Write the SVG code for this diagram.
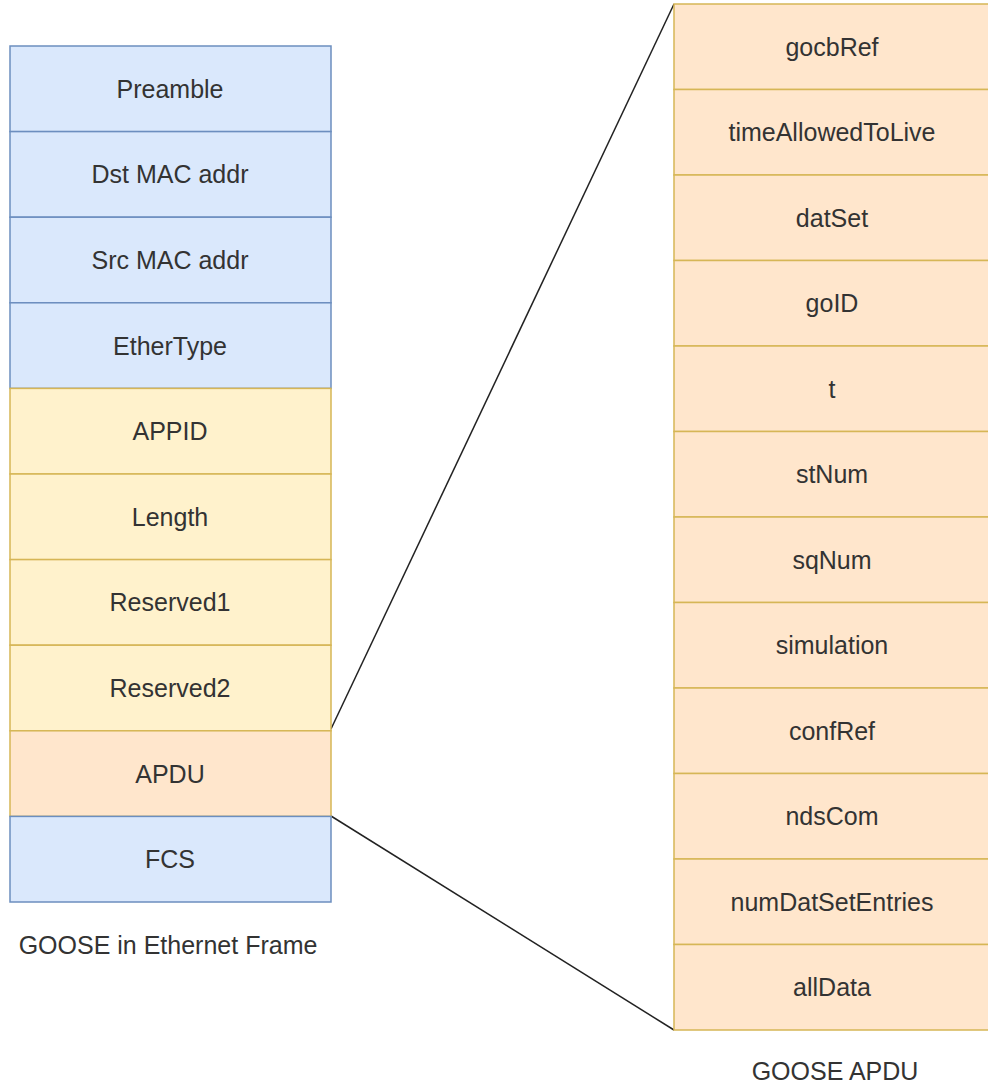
<svg xmlns="http://www.w3.org/2000/svg" width="988" height="1085" viewBox="0 0 988 1085">
<style>
text{font-family:"Liberation Sans",Arial,sans-serif;font-size:25px;fill:#333333;text-anchor:middle;dominant-baseline:central}
.blue{fill:#dae8fc;stroke:#6c8ebf;stroke-width:1.5}
.yel{fill:#fff2cc;stroke:#d6b656;stroke-width:1.5}
.org{fill:#ffe6cc;stroke:#d6b656;stroke-width:1.5}
.conn{stroke:#222222;stroke-width:1.5;fill:none}
</style>
<rect width="988" height="1085" fill="#ffffff"/>
<g id="connectors">
<line class="conn" x1="331" y1="729" x2="674" y2="4"/>
<line class="conn" x1="331" y1="816" x2="674" y2="1030"/>
</g>
<g id="frame">
<g id="preamble"><rect class="blue" x="10" y="46" width="321" height="85.6"/><text x="170" y="88.8">Preamble</text></g>
<g id="dst"><rect class="blue" x="10" y="131.6" width="321" height="85.6"/><text x="170" y="174.4">Dst MAC addr</text></g>
<g id="src"><rect class="blue" x="10" y="217.2" width="321" height="85.6"/><text x="170" y="260">Src MAC addr</text></g>
<g id="ethertype"><rect class="blue" x="10" y="302.8" width="321" height="85.6"/><text x="170" y="345.6">EtherType</text></g>
<g id="appid"><rect class="yel" x="10" y="388.4" width="321" height="85.6"/><text x="170" y="431.2">APPID</text></g>
<g id="length"><rect class="yel" x="10" y="474" width="321" height="85.6"/><text x="170" y="516.8">Length</text></g>
<g id="reserved1"><rect class="yel" x="10" y="559.6" width="321" height="85.6"/><text x="170" y="602.4">Reserved1</text></g>
<g id="reserved2"><rect class="yel" x="10" y="645.2" width="321" height="85.6"/><text x="170" y="688">Reserved2</text></g>
<g id="apdu"><rect class="org" x="10" y="730.8" width="321" height="85.6"/><text x="170" y="773.6">APDU</text></g>
<g id="fcs"><rect class="blue" x="10" y="816.4" width="321" height="85.6"/><text x="170" y="859.2">FCS</text></g>
<text id="frame-label" x="168" y="945">GOOSE in Ethernet Frame</text>
</g>
<g id="goose-apdu">
<g id="gocbRef"><rect class="org" x="674" y="4" width="316" height="85.5"/><text x="832" y="46.75">gocbRef</text></g>
<g id="timeAllowedToLive"><rect class="org" x="674" y="89.5" width="316" height="85.5"/><text x="832" y="132.25">timeAllowedToLive</text></g>
<g id="datSet"><rect class="org" x="674" y="175" width="316" height="85.5"/><text x="832" y="217.75">datSet</text></g>
<g id="goID"><rect class="org" x="674" y="260.5" width="316" height="85.5"/><text x="832" y="303.25">goID</text></g>
<g id="t"><rect class="org" x="674" y="346" width="316" height="85.5"/><text x="832" y="388.75">t</text></g>
<g id="stNum"><rect class="org" x="674" y="431.5" width="316" height="85.5"/><text x="832" y="474.25">stNum</text></g>
<g id="sqNum"><rect class="org" x="674" y="517" width="316" height="85.5"/><text x="832" y="559.75">sqNum</text></g>
<g id="simulation"><rect class="org" x="674" y="602.5" width="316" height="85.5"/><text x="832" y="645.25">simulation</text></g>
<g id="confRef"><rect class="org" x="674" y="688" width="316" height="85.5"/><text x="832" y="730.75">confRef</text></g>
<g id="ndsCom"><rect class="org" x="674" y="773.5" width="316" height="85.5"/><text x="832" y="816.25">ndsCom</text></g>
<g id="numDatSetEntries"><rect class="org" x="674" y="859" width="316" height="85.5"/><text x="832" y="901.75">numDatSetEntries</text></g>
<g id="allData"><rect class="org" x="674" y="944.5" width="316" height="85.5"/><text x="832" y="987.25">allData</text></g>
<text id="apdu-label" x="835" y="1071">GOOSE APDU</text>
</g>
</svg>
